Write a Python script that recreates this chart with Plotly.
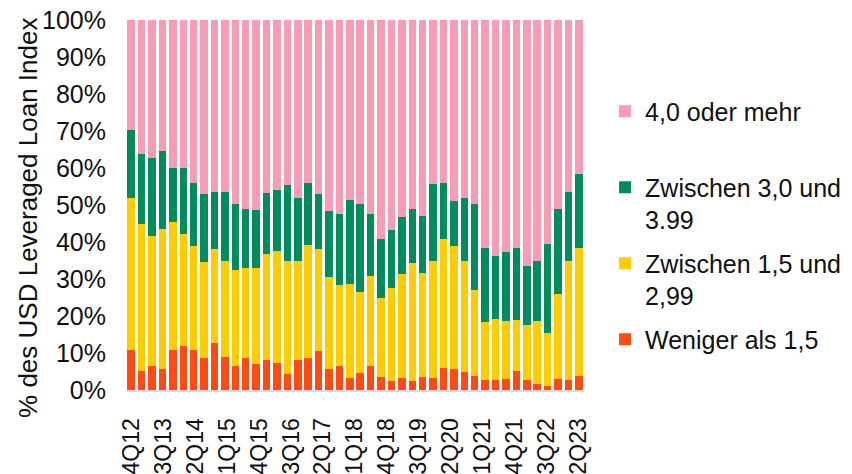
import numpy as np
import plotly.graph_objects as go

# Share of the USD Leveraged Loan Index by leverage bucket, quarterly (in %)
weniger_15 = [10.8, 5.1, 6.5, 5.7, 10.8, 11.9, 10.8, 8.6, 12.7, 8.9,
              6.5, 8.6, 7.0, 8.1, 7.3, 4.3, 8.1, 8.6, 10.5, 5.7,
              6.5, 3.2, 4.6, 6.5, 3.5, 2.4, 3.2, 2.4, 3.5, 3.2,
              5.9, 5.7, 4.9, 3.8, 2.7, 2.7, 3.0, 5.1, 2.7, 1.6,
              1.1, 3.0, 2.7, 3.8]
zw_15_299 = [41.1, 39.7, 35.0, 37.7, 34.5, 30.2, 28.0, 25.9, 25.3, 26.1,
             25.8, 24.3, 25.9, 28.6, 30.2, 30.7, 26.7, 30.5, 27.5, 24.8,
             21.8, 25.4, 21.8, 24.2, 21.3, 25.3, 28.1, 31.8, 28.0, 31.8,
             34.8, 33.1, 30.1, 23.1, 15.6, 16.4, 15.6, 13.7, 14.8, 17.0,
             14.2, 22.9, 32.1, 34.5]
zw_30_399 = [18.4, 18.9, 21.1, 21.1, 14.6, 17.8, 17.1, 18.4, 15.4, 18.4,
             17.9, 15.9, 15.7, 16.5, 16.5, 20.3, 17.0, 16.8, 14.9, 17.8,
             19.4, 22.7, 23.8, 17.0, 15.9, 15.5, 15.4, 14.6, 15.4, 20.6,
             15.2, 12.2, 16.8, 23.3, 20.0, 17.0, 18.6, 19.5, 15.9, 16.2,
             24.1, 22.9, 18.6, 20.0]
ab_40 = [29.7, 36.3, 37.4, 35.5, 40.1, 40.1, 44.1, 47.1, 46.6, 46.6,
         49.8, 51.2, 51.4, 46.8, 46.0, 44.7, 48.2, 44.1, 47.1, 51.7,
         52.3, 48.7, 49.8, 52.3, 59.3, 56.8, 53.3, 51.2, 53.1, 44.4,
         44.1, 49.0, 48.2, 49.8, 61.7, 63.9, 62.8, 61.7, 66.6, 65.2,
         60.6, 51.2, 46.6, 41.7]

tick_labels = ["4Q12", "3Q13", "2Q14", "1Q15", "4Q15", "3Q16", "2Q17", "1Q18",
               "4Q18", "3Q19", "2Q20", "1Q21", "4Q21", "3Q22", "2Q23"]
y_ticks = [0, 10, 20, 30, 40, 50, 60, 70, 80, 90, 100]
y_title = "% des USD Leveraged Loan Index"

# (legend label, values, colour, legend rank: top item first)
series = [
    ("Weniger als 1,5", weniger_15, "#FF4A14", 4),
    ("Zwischen 1,5 und<br>2,99", zw_15_299, "#FFCC00", 3),
    ("Zwischen 3,0 und<br>3.99", zw_30_399, "#008C5C", 2),
    ("4,0 oder mehr<br> ", ab_40, "#F89BB4", 1),
]

n = len(weniger_15)
x = list(range(n))

fig = go.Figure()
for i, (name, vals, color, rank) in enumerate(series):
    fig.add_trace(go.Bar(
        x=x, y=vals, name=name, marker=dict(color=color, line=dict(width=0)),
        legendgroup=f"g{i}", legendrank=rank,
    ))

font_family = "Liberation Sans, Arial, sans-serif"

fig.update_layout(
    width=852, height=474,
    margin=dict(l=126, r=268, t=20, b=84, autoexpand=False),
    barmode="stack", bargap=0.28,
    plot_bgcolor="white", paper_bgcolor="white",
    font=dict(family=font_family, size=25, color="#111111"),
    legend=dict(
        x=1.046, y=0.815, xanchor="left", yanchor="top",
        traceorder="grouped", tracegroupgap=8,
        valign="top", font=dict(size=25),
    ),
    showlegend=True,
)

# Vertical axis title, placed left of the percentage labels
fig.add_annotation(
    text=y_title, textangle=-90, showarrow=False,
    xref="paper", yref="paper", x=-0.214, y=0.465,
    xanchor="center", yanchor="middle",
    font=dict(size=26, family=font_family, color="#111111"),
)

fig.update_yaxes(
    range=[0, 100], tickvals=y_ticks, ticktext=[f"{v}%" for v in y_ticks],
    showgrid=False, zeroline=False, showline=False, ticks="",
    ticklabelstandoff=19, automargin=False, tickfont=dict(size=25),
)

fig.update_xaxes(
    range=[-0.5, n - 0.5],
    tickvals=list(np.linspace(0, n - 1, len(tick_labels))),
    ticktext=tick_labels, tickangle=-90, tickfont=dict(size=23),
    showgrid=False, zeroline=False, showline=True,
    linecolor="#D9D9D9", linewidth=2, ticks="",
    ticklabelstandoff=17, automargin=False,
)

fig.write_html("out.html")
